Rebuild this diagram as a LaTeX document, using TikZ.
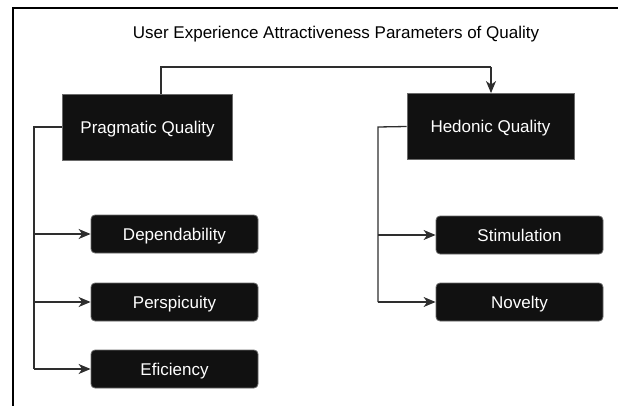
\documentclass[tikz,border=0pt]{standalone}
\usepackage{fontspec}
\setmainfont{Liberation Sans}
\usetikzlibrary{arrows.meta}
\definecolor{boxfill}{HTML}{111111}
\definecolor{boxline}{HTML}{6A6A6A}
\definecolor{wire}{HTML}{2E2E2E}
\begin{document}
\begin{tikzpicture}[x=1pt,y=-1pt,
  txt/.style={font=\fontsize{17}{20}\selectfont,text height=12.2pt,text depth=0pt},
  mainbox/.style={txt,draw=boxline,line width=0.8pt,fill=boxfill,text=white,
    minimum width=170pt,minimum height=66pt,inner sep=0pt},
  subbox/.style={txt,draw=boxline,line width=0.8pt,fill=boxfill,text=white,
    rounded corners=4pt,minimum width=167pt,minimum height=38pt,inner sep=0pt},
  wireline/.style={draw=wire,line width=1.3pt},
  arrowline/.style={wireline,-{Stealth[length=12pt,width=10pt,inset=3.5pt]}}]
\useasboundingbox (0,0) rectangle (618,406);
% open frame: top and left edges only
\draw[line width=1.5pt] (13,406) -- (13,8) -- (618,8);

\node[txt] (title) at (336,32.5) {User Experience Attractiveness Parameters of Quality};

\node[mainbox] (prag) at (147.5,127) {Pragmatic Quality};
\node[mainbox,minimum width=167pt] (hed) at (490.5,126.5) {Hedonic Quality};

\node[subbox] (dep) at (174.5,234) {Dependability};
\node[subbox] (per) at (174.5,302) {Perspicuity};
\node[subbox] (eff) at (174.5,369) {Eficiency};

\node[subbox] (sti) at (519.5,235) {Stimulation};
\node[subbox] (nov) at (519.5,302) {Novelty};

% link between the two quality groups
\coordinate (ta) at (161,67);
\coordinate (tb) at (491,67);
\draw[wireline] (prag.north -| ta) -- (ta) -- (tb);
\draw[arrowline] (tb) -- (hed.north -| tb);

% pragmatic branch
\coordinate (lb) at (34,127);
\draw[wireline] (prag.west) -- (lb) -- (lb |- eff.west);
\draw[arrowline] (lb |- dep.west) -- (dep.west);
\draw[arrowline] (lb |- per.west) -- (per.west);
\draw[arrowline] (lb |- eff.west) -- (eff.west);

% hedonic branch
\coordinate (rb) at (378,127);
\draw[wireline] (hed.west) -- (rb) -- (rb |- nov.west);
\draw[arrowline] (rb |- sti.west) -- (sti.west);
\draw[arrowline] (rb |- nov.west) -- (nov.west);
\end{tikzpicture}
\end{document}
